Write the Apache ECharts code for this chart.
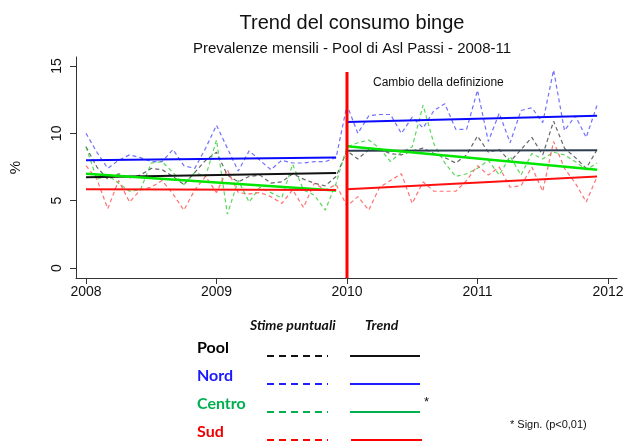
<!DOCTYPE html>
<html>
<head>
<meta charset="utf-8">
<script src="https://cdn.jsdelivr.net/npm/echarts@6/dist/echarts.min.js"></script>
<style>html,body{margin:0;padding:0;background:#fff}#c{width:627px;height:442px}</style>
</head>
<body>
<div id="c"></div>
<script>
// Month index: 0 = Jan 2008 ... 47 = Dec 2011
const yearTicks = [0, 12, 24, 36, 48];
const yearLabels = ['2008', '2009', '2010', '2011', '2012'];
const yTicks = [0, 5, 10, 15];
const changeMonth = 24;
const changeLineTop = 14.55;

// Monthly point estimates (Stime puntuali)
const poolPoint = [9.0, 7.5, 6.6, 7.0, 6.7, 6.9, 7.4, 7.3, 6.8, 6.2, 7.1, 8.0,
                   8.6, 6.9, 6.4, 6.8, 6.9, 6.3, 6.4, 7.0, 6.6, 6.3, 6.1, 6.8,
                   8.7, 8.1, 8.8, 8.8, 8.5, 8.4, 8.7, 8.9, 8.5, 8.2, 7.8, 8.4,
                   9.8, 8.6, 8.8, 7.9, 8.8, 9.7, 8.4, 10.9, 8.9, 8.2, 7.4, 8.8];
const nordPoint = [10.0, 8.6, 7.4, 8.0, 8.4, 8.2, 7.9, 7.9, 8.8, 7.6, 7.4, 8.9,
                   10.6, 8.9, 7.2, 8.7, 8.0, 7.3, 8.0, 7.8, 7.8, 7.9, 7.9, 8.2,
                   12.1, 10.0, 11.3, 11.4, 11.4, 10.0, 11.2, 10.4, 11.7, 12.2, 10.3, 10.3,
                   13.2, 9.4, 11.5, 9.3, 11.7, 11.9, 10.8, 14.7, 10.2, 11.3, 9.7, 12.1];
const centroPoint = [9.0, 6.6, 6.9, 6.3, 5.7, 5.8, 7.8, 7.9, 7.1, 6.2, 7.1, 6.8,
                     9.5, 4.0, 6.5, 4.9, 6.0, 5.6, 5.2, 7.7, 5.8, 5.4, 4.3, 6.3,
                     9.0, 9.3, 9.5, 8.9, 7.9, 8.6, 9.0, 12.1, 9.2, 7.8, 6.8, 7.0,
                     7.4, 8.0, 6.9, 8.3, 6.9, 8.5, 8.1, 8.6, 8.4, 7.9, 7.3, 7.8];
const sudPoint = [7.6, 6.6, 4.4, 6.5, 4.9, 5.8, 6.0, 6.5, 5.5, 4.3, 5.8, 6.8,
                  5.6, 7.3, 5.6, 5.5, 5.6, 5.3, 4.8, 5.8, 4.5, 6.3, 5.8, 6.2,
                  4.6, 5.3, 4.3, 6.0, 6.5, 7.0, 4.8, 6.4, 5.7, 5.7, 5.7, 6.5,
                  7.6, 6.9, 7.5, 6.0, 6.1, 7.5, 5.7, 9.4, 7.4, 6.3, 4.9, 6.8];

// Trend lines: [pre start, pre end, post start, post end]
const trendMonths = [0, 23, 24, 47];
const poolTrend = [6.75, 7.05, 8.7, 8.75];
const nordTrend = [8.0, 8.2, 10.85, 11.3];
const centroTrend = [7.0, 5.75, 9.05, 7.3];
const sudTrend = [5.85, 5.8, 5.85, 6.8];

const chart = echarts.init(document.getElementById('c'));
const FONT = 'Liberation Sans, Arial, sans-serif';

function pts(arr) { return arr.map((v, i) => [i, v]); }
function dashed(name, arr, color) {
  return { name, type: 'line', data: pts(arr), symbol: 'none', z: 2,
    lineStyle: { color, width: 1.2, type: [4, 3], opacity: 0.8 } };
}
function trend(name, arr, color, colorPost, width) {
  return [
    { name: name + ' pre', type: 'line', symbol: 'none', z: 3,
      data: [[trendMonths[0], arr[0]], [trendMonths[1], arr[1]]],
      lineStyle: { color, width } },
    { name: name + ' post', type: 'line', symbol: 'none', z: 3,
      data: [[trendMonths[2], arr[2]], [trendMonths[3], arr[3]]],
      lineStyle: { color: colorPost, width } }
  ];
}

const yMin = -0.74, yMax = 15.67;

const option = {
  animation: false,
  backgroundColor: '#fff',
  grid: { left: 76, top: 57, right: 10, bottom: 164, containLabel: false, outerBoundsMode: 'none' },
  xAxis: {
    type: 'value', min: -0.92, max: 48.83,
    axisLine: { show: true, onZero: false, lineStyle: { color: '#333', width: 1 } },
    axisTick: { show: true, length: 6, customValues: yearTicks, lineStyle: { color: '#333' } },
    axisLabel: { customValues: yearTicks, formatter: v => yearLabels[yearTicks.indexOf(v)],
      color: '#111', fontSize: 14, fontFamily: FONT, margin: 7 },
    splitLine: { show: false }
  },
  yAxis: {
    type: 'value', min: yMin, max: yMax,
    name: '%', nameLocation: 'middle', nameGap: 53, nameRotate: 90,
    nameTextStyle: { color: '#111', fontSize: 15, fontFamily: FONT },
    axisLine: { show: true, onZero: false, lineStyle: { color: '#333', width: 1 } },
    axisTick: { show: true, length: 6, customValues: yTicks, lineStyle: { color: '#333' } },
    axisLabel: { customValues: yTicks, rotate: 90, color: '#111', fontSize: 14, fontFamily: FONT, margin: 12 },
    splitLine: { show: false }
  },
  title: [
    { text: 'Trend del consumo binge', left: 347, top: 8, textAlign: 'center',
      textStyle: { fontSize: 20, fontWeight: 'normal', color: '#111', fontFamily: FONT } },
    { text: 'Prevalenze mensili - Pool di Asl Passi - 2008-11', left: 347, top: 36, textAlign: 'center',
      textStyle: { fontSize: 15, fontWeight: 'normal', color: '#111', fontFamily: FONT } }
  ],
  series: [
    dashed('Pool', poolPoint, '#404040'),
    dashed('Nord', nordPoint, '#4d4dff'),
    dashed('Centro', centroPoint, '#33cc33'),
    dashed('Sud', sudPoint, '#ff4d4d'),
    ...trend('Pool', poolTrend, '#111111', '#2c3e50', 2),
    ...trend('Nord', nordTrend, '#0a0aff', '#0a0aff', 2),
    ...trend('Centro', centroTrend, '#00e600', '#00e600', 2.5),
    ...trend('Sud', sudTrend, '#ff1010', '#ff1010', 2),
    { name: 'cambio', type: 'line', symbol: 'none', z: 4,
      data: [[changeMonth, yMin], [changeMonth, changeLineTop]],
      lineStyle: { color: '#ff0000', width: 3 } }
  ],
  graphic: [
    { type: 'text', left: 373, top: 77, style: { text: 'Cambio della definizione', fontSize: 12, fontFamily: FONT, fill: '#111' } },
    { type: 'text', left: 250, top: 318, style: { text: 'Stime puntuali', fontSize: 14, fontWeight: 'bold', fontStyle: 'italic', fontFamily: 'Lato, sans-serif', fill: '#111' } },
    { type: 'text', left: 365, top: 318, style: { text: 'Trend', fontSize: 14, fontWeight: 'bold', fontStyle: 'italic', fontFamily: 'Lato, sans-serif', fill: '#111' } },
    { type: 'text', left: 197, top: 340, style: { text: 'Pool', fontSize: 16, fontWeight: 'bold', fontFamily: 'Lato, sans-serif', fill: '#000' } },
    { type: 'text', left: 197, top: 368, style: { text: 'Nord', fontSize: 16, fontWeight: 'bold', fontFamily: 'Lato, sans-serif', fill: '#1a1aff' } },
    { type: 'text', left: 197, top: 396, style: { text: 'Centro', fontSize: 16, fontWeight: 'bold', fontFamily: 'Lato, sans-serif', fill: '#00b050' } },
    { type: 'text', left: 197, top: 424, style: { text: 'Sud', fontSize: 16, fontWeight: 'bold', fontFamily: 'Lato, sans-serif', fill: '#ee0000' } },
    { type: 'line', shape: { x1: 267, y1: 356, x2: 328, y2: 356 }, style: { stroke: '#111', lineWidth: 2, lineDash: [7, 5] } },
    { type: 'line', shape: { x1: 350, y1: 356, x2: 420, y2: 356 }, style: { stroke: '#111', lineWidth: 2 } },
    { type: 'line', shape: { x1: 267, y1: 384, x2: 328, y2: 384 }, style: { stroke: '#2020ff', lineWidth: 2, lineDash: [7, 5] } },
    { type: 'line', shape: { x1: 350, y1: 384, x2: 420, y2: 384 }, style: { stroke: '#2020ff', lineWidth: 2 } },
    { type: 'line', shape: { x1: 267, y1: 412, x2: 328, y2: 412 }, style: { stroke: '#00b050', lineWidth: 2, lineDash: [7, 5] } },
    { type: 'line', shape: { x1: 350, y1: 412, x2: 420, y2: 412 }, style: { stroke: '#00b050', lineWidth: 2 } },
    { type: 'line', shape: { x1: 267, y1: 440, x2: 328, y2: 440 }, style: { stroke: '#ff0000', lineWidth: 2, lineDash: [7, 5] } },
    { type: 'line', shape: { x1: 351, y1: 440, x2: 422, y2: 440 }, style: { stroke: '#ff0000', lineWidth: 2 } },
    { type: 'text', left: 424, top: 396, style: { text: '*', fontSize: 13, fontFamily: FONT, fill: '#111' } },
    { type: 'text', left: 510, top: 419, style: { text: '* Sign. (p<0,01)', fontSize: 11, fontFamily: FONT, fill: '#111' } }
  ]
};
chart.setOption(option);
</script>
</body>
</html>
